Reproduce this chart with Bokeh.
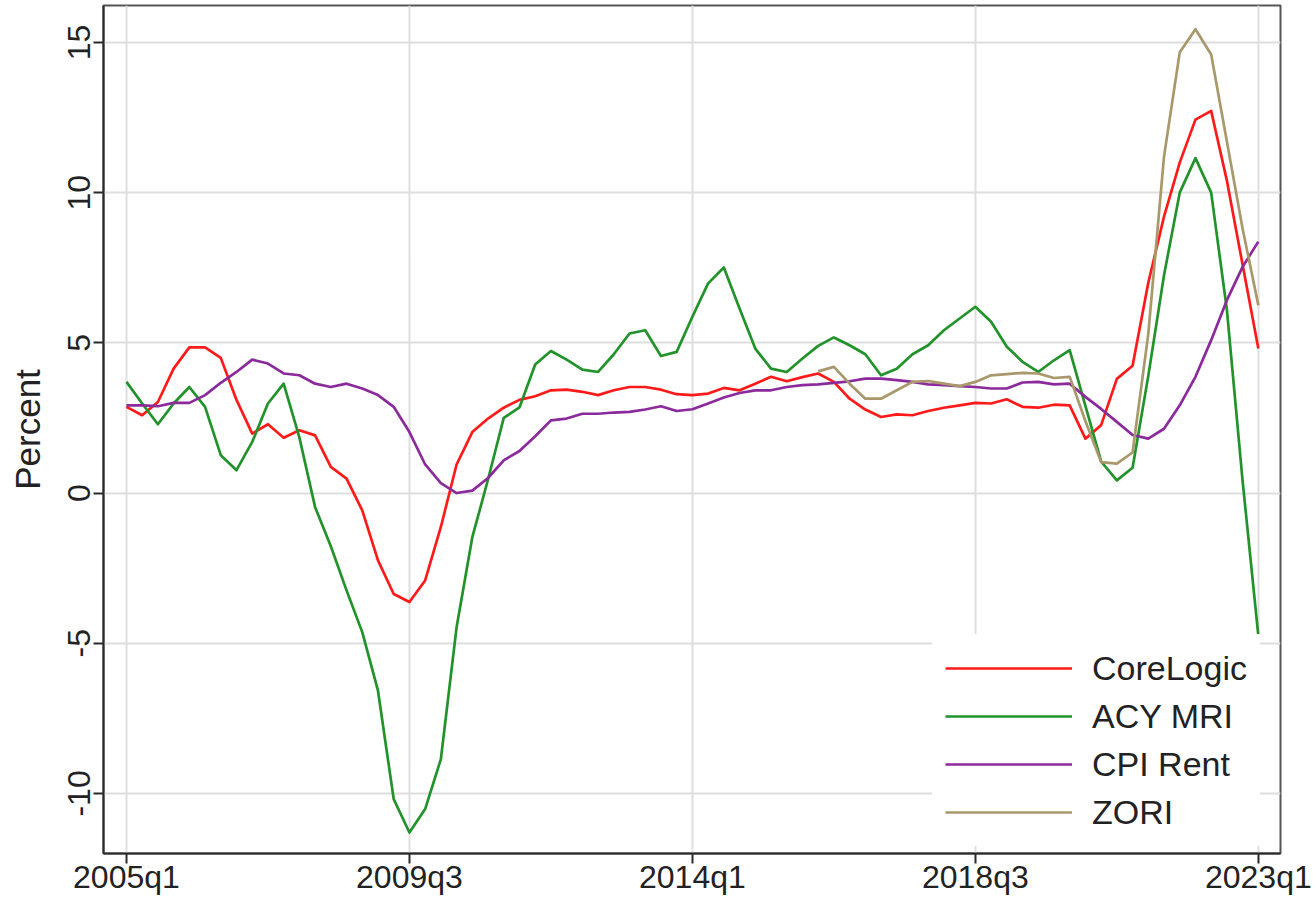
from bokeh.plotting import figure
from bokeh.models import FixedTicker, Legend, LegendItem, Range1d
from bokeh.embed import file_html
from bokeh.resources import INLINE

# Quarterly axis: 2005q1 ... 2023q1
quarters = [f"{y}q{q}" for y in range(2005, 2024) for q in range(1, 5)][:73]
tick_labels = ["2005q1", "2009q3", "2014q1", "2018q3", "2023q1"]
y_ticks = [-10, -5, 0, 5, 10, 15]
y_tick_labels = ["-10", "-5", "0", "5", "10", "15"]

# Year-over-year rent growth, percent
corelogic = [2.87, 2.59, 3.03, 4.14, 4.85, 4.85, 4.5, 3.1, 1.98, 2.29,
             1.84, 2.09, 1.92, 0.87, 0.48, -0.58, -2.24, -3.36, -3.63, -2.91,
             -1.13, 0.95, 2.03, 2.48, 2.84, 3.1, 3.22, 3.42, 3.44, 3.37,
             3.26, 3.42, 3.53, 3.53, 3.44, 3.29, 3.26, 3.31, 3.5, 3.42,
             3.64, 3.87, 3.72, 3.86, 3.98, 3.7, 3.14, 2.78, 2.53, 2.62,
             2.59, 2.73, 2.84, 2.92, 3.0, 2.98, 3.12, 2.87, 2.84, 2.94,
             2.92, 1.81, 2.26, 3.8, 4.24, 7.0, 9.2, 11.0, 12.43, 12.72,
             10.4, 7.6, 4.81]

acy_mri = [3.7, 2.98, 2.29, 2.98, 3.53, 2.87, 1.26, 0.76, 1.7, 2.98,
           3.64, 1.85, -0.47, -1.77, -3.24, -4.63, -6.58, -10.19, -11.3, -10.52,
           -8.86, -4.47, -1.47, 0.45, 2.5, 2.85, 4.28, 4.73, 4.44, 4.11,
           4.03, 4.62, 5.31, 5.42, 4.56, 4.7, 5.87, 6.98, 7.51, 6.14,
           4.81, 4.14, 4.03, 4.48, 4.9, 5.18, 4.92, 4.62, 3.92, 4.14,
           4.62, 4.92, 5.42, 5.81, 6.2, 5.7, 4.87, 4.37, 4.03, 4.42,
           4.76, 2.9, 1.05, 0.42, 0.84, 3.9, 7.25, 10.0, 11.15, 10.0,
           6.1, 0.4, -4.75]

cpi_rent = [2.92, 2.92, 2.89, 3.0, 3.0, 3.26, 3.67, 4.03, 4.44, 4.31,
            3.98, 3.92, 3.64, 3.53, 3.64, 3.48, 3.26, 2.87, 2.03, 0.95,
            0.33, 0.0, 0.08, 0.5, 1.09, 1.4, 1.89, 2.42, 2.48, 2.64,
            2.64, 2.68, 2.7, 2.78, 2.89, 2.73, 2.79, 2.98, 3.18, 3.33,
            3.42, 3.42, 3.53, 3.59, 3.62, 3.67, 3.72, 3.81, 3.81, 3.76,
            3.7, 3.62, 3.59, 3.56, 3.53, 3.48, 3.48, 3.68, 3.7, 3.62,
            3.64, 3.2, 2.8, 2.37, 1.93, 1.81, 2.14, 2.92, 3.87, 5.09,
            6.42, 7.53, 8.37]

zori_start = "2016q1"
zori = [4.05, 4.2, 3.64, 3.14, 3.14, 3.42, 3.7, 3.73, 3.64, 3.56,
        3.7, 3.92, 3.96, 4.0, 3.98, 3.83, 3.87, 2.4, 1.03, 0.98,
        1.35, 5.3, 11.2, 14.67, 15.44, 14.6, 11.7, 8.8, 6.25]

series_names = ["CoreLogic", "ACY MRI", "CPI Rent", "ZORI"]
series_colors = ["#FF1A1A", "#22922A", "#8B2A9B", "#A8986C"]

FONT = "Liberation Sans"
TEXT = "#222222"

x_all = list(range(len(quarters)))
z0 = quarters.index(zori_start)
x_zori = list(range(z0, z0 + len(zori)))

p = figure(width=1313, height=909, output_backend="svg", toolbar_location=None,
           x_range=Range1d(-1.46, 73.41), y_range=Range1d(-12.0, 16.23),
           min_border_left=103, min_border_right=33, min_border_top=5,
           min_border_bottom=56, background_fill_color="white",
           border_fill_color="white")

renderers = []
for xs, ys, c in zip([x_all, x_all, x_all, x_zori],
                     [corelogic, acy_mri, cpi_rent, zori], series_colors):
    r = p.line(xs, ys, line_color=c, line_width=2.7, line_join="round")
    renderers.append(r)

# axes
p.xaxis.ticker = FixedTicker(ticks=[quarters.index(t) for t in tick_labels])
p.xaxis.major_label_overrides = {quarters.index(t): t for t in tick_labels}
p.yaxis.ticker = FixedTicker(ticks=y_ticks)
p.yaxis.major_label_overrides = dict(zip(y_ticks, y_tick_labels))
p.yaxis.major_label_orientation = "vertical"
p.yaxis.axis_label = "Percent"
p.yaxis.axis_label_standoff = 19
p.yaxis.axis_label_text_font = FONT
p.yaxis.axis_label_text_font_style = "normal"
p.yaxis.axis_label_text_font_size = "35px"
p.yaxis.axis_label_text_color = TEXT

for ax in (p.xaxis, p.yaxis):
    ax.major_label_text_font = FONT
    ax.major_label_text_font_size = "32px"
    ax.major_label_text_color = TEXT
    ax.axis_line_color = "#2a2a2a"
    ax.axis_line_width = 2
    ax.major_tick_line_color = "#2a2a2a"
    ax.major_tick_line_width = 2
    ax.major_tick_out = 10
    ax.major_tick_in = 0
    ax.minor_tick_line_color = None
p.xaxis.major_label_standoff = -5
p.yaxis.major_label_standoff = 3

p.xgrid.ticker = p.xaxis.ticker
p.ygrid.ticker = p.yaxis.ticker
for g in (p.xgrid, p.ygrid):
    g.grid_line_color = "#DEDEDE"
    g.grid_line_width = 2

p.outline_line_color = "#555555"
p.outline_line_width = 2

legend = Legend(items=[LegendItem(label=n, renderers=[r]) for n, r in zip(series_names, renderers)],
                location=(829, 7), orientation="vertical")
legend.label_text_font = FONT
legend.label_text_font_size = "34px"
legend.label_text_color = TEXT
legend.glyph_width = 127
legend.glyph_height = 42
legend.label_height = 42
legend.label_standoff = 20
legend.spacing = 6
legend.padding = 13
legend.margin = 0
legend.border_line_alpha = 0
legend.background_fill_color = "white"
legend.background_fill_alpha = 1
p.add_layout(legend, "center")

open("out.html", "w").write(file_html(p, INLINE))
